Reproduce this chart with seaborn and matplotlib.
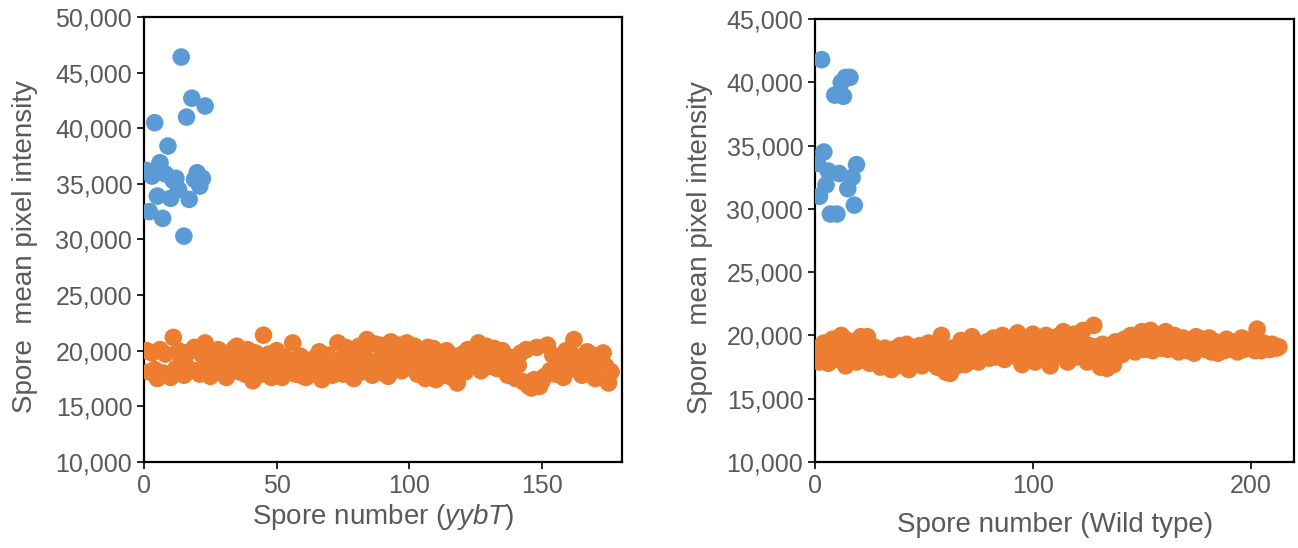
import numpy as np
import pandas as pd
import matplotlib
matplotlib.use("Agg")
import matplotlib.pyplot as plt
import matplotlib.ticker as mticker
import seaborn as sns

# ---- yybT mutant spores ----
yybt_bright = [36200, 32500, 35700, 40500, 33900, 36900, 31900, 35900, 38400, 33700,
               35300, 35500, 34500, 46400, 30300, 41000, 33600, 42700, 35400, 36000,
               34800, 35500, 42000]
yybt_dim = [20000, 18100, 19800, 18300, 17500, 20100, 18000, 19700, 17900, 17600,
            21200, 18400, 20000, 19300, 17800, 18600, 19900, 18200, 20300, 18200,
            17900, 19600, 20700, 18500, 17700, 19300, 18800, 20100, 19900, 18400,
            17600, 19500, 18900, 20200, 20400, 18100, 19000, 17900, 20100, 18600,
            17300, 19800, 17800, 19200, 21400, 18300, 19700, 17600, 18800, 20000,
            18500, 17600, 19400, 18100, 19100, 20700, 17900, 18600, 19500, 17700,
            17600, 18900, 18200, 19300, 18000, 19900, 17400, 18700, 19600, 18300,
            17800, 18600, 20700, 19200, 17900, 20300, 18400, 19800, 17500, 18900,
            20400, 18100, 19500, 21000, 18300, 17800, 20600, 19100, 20500, 18000,
            19600, 17700, 20800, 18600, 19400, 20500, 18200, 20000, 20700, 19300,
            18700, 20400, 17900, 19900, 18500, 17500, 20300, 18800, 20200, 17400,
            19100, 18300, 17800, 20000, 18900, 17600, 19500, 17100, 18400, 19700,
            18100, 20100, 19400, 19900, 18700, 20700, 18200, 19800, 20400, 18600,
            19300, 20200, 18400, 19600, 20000, 18900, 17800, 19400, 18300, 17500,
            18700, 19800, 17200, 20100, 16800, 16650, 17400, 20300, 16800, 17300,
            17700, 20500, 18200, 19600, 17900, 19000, 18000, 17600, 20000, 18500,
            19700, 21000, 18300, 19400, 17800, 18800, 19900, 17900, 19600, 17500,
            18400, 19100, 19800, 18600, 17100, 18100]

# ---- wild type spores ----
wt_bright_x = [1, 2, 3, 4, 5, 6, 7, 9, 10, 11, 12, 13, 14, 15, 16, 17, 18, 19]
wt_bright = [33600, 31000, 41800, 34500, 31900, 33000, 29600, 39000, 29600, 32800,
             40000, 38900, 40400, 31600, 40400, 32500, 30300, 33500]
wt_dim = [19000, 17900, 18600, 19400, 18300, 17800, 18900, 19700, 18100, 18700,
          19300, 20000, 18400, 17600, 19600, 18800, 18200, 19200, 17900, 18500,
          19900, 18300, 18600, 19900, 17800, 18600, 19100, 18000, 18800, 17500,
          18300, 19000, 17700, 18400, 17300, 18900, 18100, 17600, 19200, 18300,
          17800, 19300, 17300, 18500, 19000, 17800, 18200, 19200, 17600, 18700,
          18400, 19400, 17900, 18600, 19000, 17500, 18300, 20000, 18700, 17100,
          18400, 17000, 19000, 18200, 17600, 18800, 19600, 18300, 17700, 19100,
          18600, 19900, 18000, 18800, 17900, 19300, 18400, 18900, 19500, 18200,
          18700, 19800, 18300, 19200, 18600, 20000, 18100, 19400, 18800, 19700,
          18400, 19100, 20200, 18600, 17700, 19300, 18900, 19800, 18500, 20100,
          17900, 18800, 19500, 18200, 19000, 20000, 18700, 17600, 19400, 18900,
          19900, 18400, 19100, 20300, 18600, 17900, 19600, 18800, 20100, 18300,
          19400, 19000, 20400, 18700, 17900, 19200, 18500, 20800, 19100, 18000,
          17500, 19300, 18600, 17400, 19000, 18100, 17700, 19500, 18800, 19200,
          18500, 19700, 19100, 18900, 20000, 19300, 18700, 19600, 19000, 20300,
          18900, 19500, 19200, 20400, 18800, 19700, 19300, 20000, 19000, 19400,
          20300, 18900, 19600, 19100, 20000, 19300, 18700, 19500, 19800, 19000,
          18800, 19600, 19300, 18600, 19900, 19200, 19000, 19700, 18900, 19300,
          19800, 18700, 19100, 19500, 18600, 19000, 19400, 18800, 19700, 19200,
          18900, 19500, 19100, 18700, 19300, 19800, 18900, 19200, 19600, 19000,
          19200, 18800, 20500, 19100, 18800, 19400, 19000, 19200, 18900, 19300,
          19100, 19000, 19100]

BLUE = "#5B9BD5"
ORANGE = "#ED7D31"
TEXT = "#595959"

sns.set_theme(style="white")
plt.rcParams["font.family"] = ["Liberation Sans", "DejaVu Sans"]
plt.rcParams["mathtext.fontset"] = "custom"
plt.rcParams["mathtext.rm"] = "Liberation Sans"
plt.rcParams["mathtext.it"] = "Liberation Sans:italic"

left_df = pd.concat([
    pd.DataFrame({"spore": np.arange(1, len(yybt_bright) + 1), "intensity": yybt_bright, "group": "bright"}),
    pd.DataFrame({"spore": np.arange(1, len(yybt_dim) + 1), "intensity": yybt_dim, "group": "dim"}),
])
right_df = pd.concat([
    pd.DataFrame({"spore": wt_bright_x, "intensity": wt_bright, "group": "bright"}),
    pd.DataFrame({"spore": np.arange(1, len(wt_dim) + 1), "intensity": wt_dim, "group": "dim"}),
])

fig = plt.figure(figsize=(12.98, 5.48), dpi=100)
ax1 = fig.add_axes([0.111, 0.157, 0.368, 0.812])
ax2 = fig.add_axes([0.628, 0.157, 0.369, 0.808])

palette = {"bright": BLUE, "dim": ORANGE}
for ax, df in ((ax1, left_df), (ax2, right_df)):
    sns.scatterplot(data=df, x="spore", y="intensity", hue="group", palette=palette,
                    s=160, linewidth=0, alpha=1, legend=False, ax=ax, zorder=3)

ax1.set_xlim(0, 180)
ax1.set_ylim(10000, 50000)
ax1.set_xticks([0, 50, 100, 150])
ax1.set_yticks(np.arange(10000, 50001, 5000))

ax2.set_xlim(0, 220)
ax2.set_ylim(10000, 45000)
ax2.set_xticks([0, 100, 200])
ax2.set_yticks(np.arange(10000, 45001, 5000))

ax1.set_xlabel("Spore number $\\mathit{(yybT)}$", fontsize=20, color=TEXT)
ax2.set_xlabel("Spore number (Wild type)", fontsize=20, color=TEXT)
ax1.xaxis.set_label_coords(0.5, -0.124)
ax2.xaxis.set_label_coords(0.5, -0.142)

for ax, ylx in ((ax1, -0.249), (ax2, -0.24)):
    ax.set_ylabel("Spore  mean pixel intensity", fontsize=20, color=TEXT)
    ax.yaxis.set_label_coords(ylx, 0.485)
    ax.yaxis.label.set_va("center")
    ax.xaxis.label.set_va("center")
    ax.yaxis.set_major_formatter(mticker.StrMethodFormatter("{x:,.0f}"))
    ax.tick_params(axis="both", direction="out", length=5, width=1.2, color="black",
                   labelcolor=TEXT, labelsize=18, left=True, bottom=True)
    for sp in ax.spines.values():
        sp.set_visible(True)
        sp.set_color("black")
        sp.set_linewidth(1.6)
    ax.grid(False)
    ax.set_facecolor("white")

fig.savefig("out.png", dpi=100, facecolor="white")
